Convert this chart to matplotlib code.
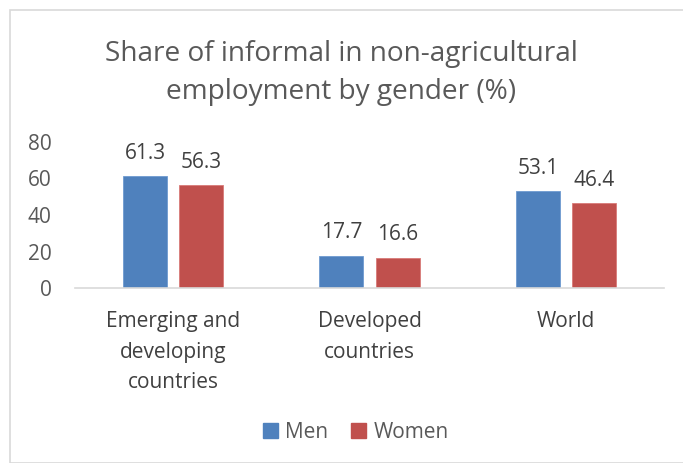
import matplotlib
matplotlib.use("Agg")
import matplotlib.pyplot as plt
import numpy as np
from matplotlib.patches import Rectangle, Patch

categories = ["Emerging and\ndeveloping\ncountries", "Developed\ncountries", "World"]
men = [61.3, 17.7, 53.1]
women = [56.3, 16.6, 46.4]
yticks = [0, 20, 40, 60, 80]

W, H = 683, 463
fig = plt.figure(figsize=(W / 100, H / 100), dpi=100)
plt.rcParams['font.family'] = ['Open Sans', 'DejaVu Sans']
gray = "#595959"

# outer border
fig.add_artist(Rectangle((10 / W, 0), 1.2, (H - 10) / H, transform=fig.transFigure,
                         fill=False, edgecolor="#d9d9d9", linewidth=1.2))

ax = fig.add_axes([75 / W, 1 - 288 / H, (664 - 75) / W, (288 - 142) / H])
x = np.arange(len(categories))
bw = 0.224
off = 0.143
blue = "#4f81bd"
red = "#c0504d"
b1 = ax.bar(x - off, men, bw, color=blue, edgecolor="#6f9bd0", linewidth=0.6, label="Men")
b2 = ax.bar(x + off, women, bw, color=red, edgecolor="#d87a78", linewidth=0.6, label="Women")
for bars, vals in ((b1, men), (b2, women)):
    for r, v in zip(bars, vals):
        ax.annotate(f"{v:.1f}", (r.get_x() + r.get_width() / 2, v), xytext=(0, 9),
                    textcoords="offset points", ha="center", va="bottom",
                    fontsize=15, color="#404040")

ax.set_xlim(-0.5, 2.5)
ax.set_ylim(0, 80)
ax.set_yticks(yticks)
ax.set_yticklabels([str(t) for t in yticks], fontsize=15, color=gray)
ax.set_xticks(x)
ax.set_xticklabels(categories, fontsize=15, color="#404040", linespacing=1.6)
ax.tick_params(axis="both", length=0)
ax.tick_params(axis="y", pad=17)
ax.tick_params(axis="x", pad=16.5)
for s in ("top", "right", "left"):
    ax.spines[s].set_visible(False)
ax.spines["bottom"].set_color("#d9d9d9")
ax.spines["bottom"].set_linewidth(1.2)

fig.text(0.5, 1 - 73 / H, "Share of informal in non-agricultural\nemployment by gender (%)",
         ha="center", va="center", fontsize=20.2, color=gray, linespacing=1.45)

handles = [Patch(color=blue), Patch(color=red)]
fig.legend(handles, ["Men", "Women"], loc="center", bbox_to_anchor=(356 / W, 1 - 432 / H),
           ncol=2, frameon=False, fontsize=15, handlelength=0.7, handleheight=0.7,
           handletextpad=0.35, columnspacing=1.1, labelcolor=gray)

fig.savefig("out.png", dpi=100)
